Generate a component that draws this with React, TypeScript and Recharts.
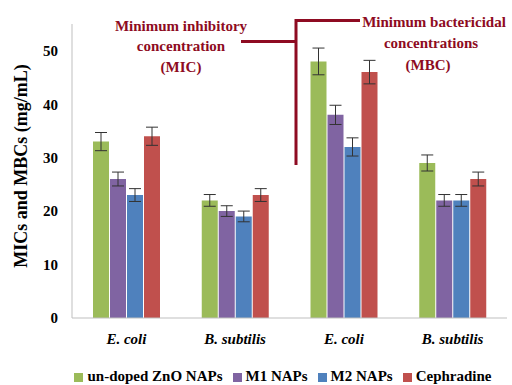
import React from "react";
import { BarChart, Bar, XAxis, YAxis, Legend, ErrorBar } from "recharts";

const categories = ["E. coli", "B. subtilis", "E. coli", "B. subtilis"];
const undoped = [33, 22, 48, 29];
const undopedErr = [1.7, 1.1, 2.5, 1.5];
const m1 = [26, 20, 38, 22];
const m1Err = [1.3, 1.0, 1.8, 1.1];
const m2 = [23, 19, 32, 22];
const m2Err = [1.2, 1.0, 1.7, 1.1];
const ceph = [34, 23, 46, 26];
const cephErr = [1.7, 1.2, 2.2, 1.3];
const yTicks = [0, 10, 20, 30, 40, 50];
const seriesOrder = ["undoped", "m1", "m2", "ceph"];

const data = categories.map((c, i) => ({
  name: c,
  undoped: undoped[i],
  undopedErr: undopedErr[i],
  m1: m1[i],
  m1Err: m1Err[i],
  m2: m2[i],
  m2Err: m2Err[i],
  ceph: ceph[i],
  cephErr: cephErr[i],
}));

const FONT = "Liberation Serif";
const FS = 15;
const ANN = "#8E0B22";

function AnnText({ x, y, children }: { x: number; y: number; children: React.ReactNode }) {
  return (
    <text x={x} y={y} fontFamily={FONT} fontSize={FS} fontWeight="bold" fill={ANN} textAnchor="middle">
      {children}
    </text>
  );
}

export default function App() {
  return (
    <div style={{ position: "absolute", left: 0, top: 0, width: 512, height: 385, background: "#fff", fontFamily: FONT }}>
      <BarChart
        width={512}
        height={385}
        data={data}
        margin={{ top: 24, right: 5, bottom: 20, left: 0 }}
        barSize={16}
        barGap={1}
      >
        <XAxis
          dataKey="name"
          axisLine={{ stroke: "#bfbfbf" }}
          tickLine={false}
          tickMargin={9}
          height={30}
          interval={0}
          tick={{ fontFamily: FONT, fontSize: FS, fontWeight: "bold", fontStyle: "italic", fill: "#000" }}
        />
        <YAxis
          domain={[0, 55]}
          ticks={yTicks}
          width={72}
          axisLine={{ stroke: "#bfbfbf" }}
          tickLine={false}
          tickMargin={8}
          tick={{ fontFamily: FONT, fontSize: FS, fontWeight: "bold", fill: "#000" }}
        />
        <Legend
          verticalAlign="bottom"
          iconType="square"
          iconSize={9}
          itemSorter={(item: any) => seriesOrder.indexOf(String(item.dataKey))}
          wrapperStyle={{ left: 64, width: 448, bottom: 0, fontFamily: FONT, fontSize: FS, fontWeight: "bold" }}
          formatter={(v: string) => <span style={{ color: "#000", fontFamily: FONT }}>{v}</span>}
        />
        <Bar dataKey="undoped" name="un-doped ZnO NAPs" fill="#9BBB59" isAnimationActive={false}>
          <ErrorBar dataKey="undopedErr" width={6} stroke="#333" strokeWidth={1} />
        </Bar>
        <Bar dataKey="m1" name="M1 NAPs" fill="#8064A2" isAnimationActive={false}>
          <ErrorBar dataKey="m1Err" width={6} stroke="#333" strokeWidth={1} />
        </Bar>
        <Bar dataKey="m2" name="M2 NAPs" fill="#4F81BD" isAnimationActive={false}>
          <ErrorBar dataKey="m2Err" width={6} stroke="#333" strokeWidth={1} />
        </Bar>
        <Bar dataKey="ceph" name="Cephradine" fill="#C0504D" isAnimationActive={false}>
          <ErrorBar dataKey="cephErr" width={6} stroke="#333" strokeWidth={1} />
        </Bar>
      </BarChart>
      <svg
        width={512}
        height={385}
        style={{ position: "absolute", left: 0, top: 0, pointerEvents: "none" }}
      >
        <text
          transform="translate(27,166) rotate(-90)"
          textAnchor="middle"
          fontFamily={FONT}
          fontSize={18}
          fontWeight="bold"
          fill="#000"
        >
          MICs and MBCs (mg/mL)
        </text>
        <AnnText x={181} y={31}>Minimum inhibitory</AnnText>
        <AnnText x={181} y={51}>concentration</AnnText>
        <AnnText x={181} y={72}>(MIC)</AnnText>
        <AnnText x={434} y={27}>Minimum bactericidal</AnnText>
        <AnnText x={431} y={48}>concentrations</AnnText>
        <AnnText x={428} y={70}>(MBC)</AnnText>
        <polyline points="241,41.5 296,41.5" stroke={ANN} strokeWidth={3} fill="none" />
        <polyline points="360,20.5 296,20.5 296,165" stroke={ANN} strokeWidth={3} fill="none" />
      </svg>
    </div>
  );
}
